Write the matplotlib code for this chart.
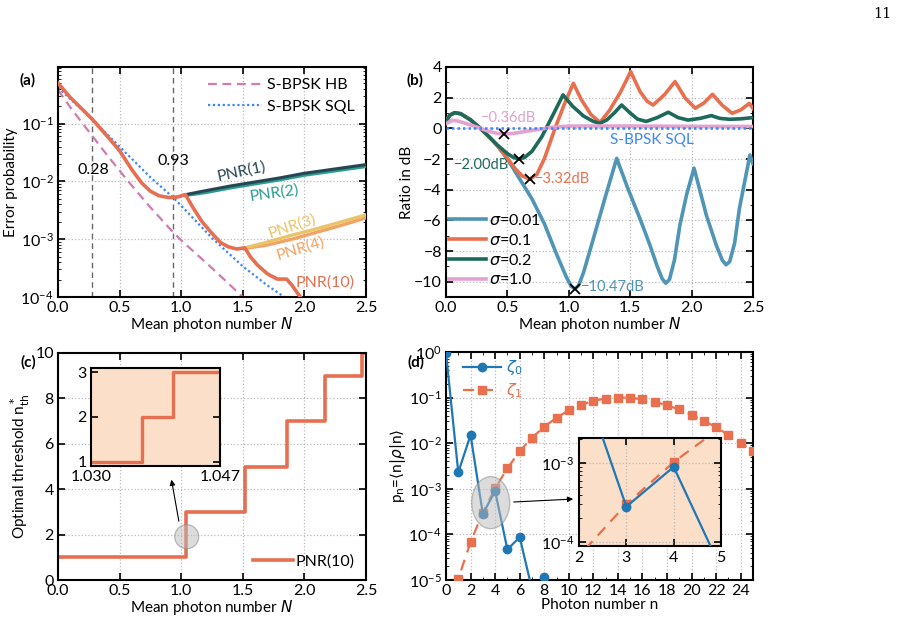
import numpy as np
import matplotlib
matplotlib.use("Agg")
import matplotlib.pyplot as plt
from matplotlib.patches import Ellipse
from matplotlib.ticker import LogLocator, MultipleLocator, NullFormatter, FixedLocator

plt.rcParams['font.family'] = ['Lato', 'DejaVu Sans']
plt.rcParams['mathtext.fontset'] = 'dejavusans'
plt.rcParams['xtick.direction'] = 'in'
plt.rcParams['ytick.direction'] = 'in'
plt.rcParams['xtick.top'] = True
plt.rcParams['ytick.right'] = True
plt.rcParams['axes.linewidth'] = 1.5
plt.rcParams['xtick.major.width'] = 1.2
plt.rcParams['ytick.major.width'] = 1.2
plt.rcParams['xtick.major.size'] = 5
plt.rcParams['ytick.major.size'] = 5
plt.rcParams['xtick.minor.size'] = 2.5
plt.rcParams['ytick.minor.size'] = 2.5
plt.rcParams['font.size'] = 12

# ---------------- data ----------------
# (a) error probability (log10 values)
N_hb = [0, 0.1, 0.2, 0.28, 0.4, 0.57, 0.75, 0.93, 1.0, 1.25, 1.5, 1.6]
log_hb = [-0.42, -0.72, -1.0, -1.22, -1.55, -2.0, -2.45, -2.87, -3.02, -3.5, -4.0, -4.2]
N_sql = [0, 0.28, 0.5, 0.75, 0.93, 1.0, 1.25, 1.5, 1.7, 1.85, 1.95]
log_sql = [-0.38, -0.93, -1.4, -1.93, -2.27, -2.42, -2.98, -3.47, -3.8, -4.02, -4.2]
N_pnr10 = [0, 0.1, 0.2, 0.28, 0.4, 0.5, 0.6, 0.68, 0.75, 0.82, 0.9, 0.97, 1.035, 1.1, 1.17,
           1.25, 1.32, 1.38, 1.45, 1.517, 1.56, 1.62, 1.7, 1.78, 1.856, 1.9, 1.95, 2.0]
log_pnr10 = [-0.30, -0.55, -0.76, -0.93, -1.22, -1.47, -1.8, -2.03, -2.17, -2.25, -2.28, -2.27,
             -2.23, -2.47, -2.7, -2.9, -3.06, -3.13, -3.17, -3.15, -3.3, -3.45, -3.6, -3.69,
             -3.69, -3.8, -3.95, -4.1]
N_pnr12 = [1.035, 1.2, 1.4, 1.6, 1.8, 2.0, 2.2, 2.5]
log_pnr1 = [-2.23, -2.16, -2.08, -2.01, -1.94, -1.86, -1.8, -1.71]
log_pnr2 = [-2.24, -2.19, -2.11, -2.04, -1.97, -1.89, -1.83, -1.74]
N_pnr34 = [1.517, 1.7, 1.9, 2.1, 2.3, 2.5]
log_pnr3 = [-3.15, -3.05, -2.93, -2.82, -2.7, -2.58]
log_pnr4 = [-3.16, -3.1, -3.0, -2.88, -2.76, -2.63]
N_marks_a = [0.28, 0.93]

# (b) ratio in dB
N_s001 = [0, 0.03, 0.07, 0.12, 0.2, 0.28, 0.35, 0.42, 0.5, 0.6, 0.7, 0.8, 0.9, 0.98, 1.02, 1.05,
          1.08, 1.12, 1.2, 1.3, 1.39, 1.48, 1.58, 1.66, 1.72, 1.76, 1.79, 1.82, 1.86, 1.905, 1.96,
          2.02, 2.12, 2.2, 2.25, 2.28, 2.31, 2.35, 2.39, 2.475, 2.5]
dB_s001 = [0.45, 0.85, 1.02, 0.95, 0.55, 0.0, -0.55, -1.15, -2.0, -3.3, -4.6, -6.2, -8.2, -9.7,
           -10.3, -10.47, -10.25, -9.4, -7.2, -4.4, -1.96, -3.9, -5.9, -7.6, -9.0, -9.8, -10.1,
           -9.85, -8.6, -6.3, -4.3, -2.6, -5.66, -7.6, -8.6, -8.9, -8.7, -7.5, -5.2, -1.74, -2.3]
N_s01 = [0, 0.03, 0.07, 0.12, 0.2, 0.28, 0.35, 0.42, 0.5, 0.56, 0.62, 0.684, 0.74, 0.8, 0.888,
         0.96, 1.037, 1.1, 1.18, 1.254, 1.33, 1.42, 1.504, 1.58, 1.64, 1.687, 1.78, 1.865, 1.95,
         2.03, 2.1, 2.17, 2.25, 2.33, 2.4, 2.47, 2.5]
dB_s01 = [0.45, 0.85, 1.02, 0.95, 0.55, 0.0, -0.55, -1.15, -1.95, -2.6, -3.1, -3.32, -3.0, -2.0,
          0.0, 1.5, 2.94, 1.9, 0.9, 0.39, 1.15, 2.35, 3.7, 2.4, 1.75, 1.52, 2.2, 3.05, 1.95, 1.31,
          1.65, 2.22, 1.5, 0.98, 1.2, 1.63, 1.3]
N_s02 = [0, 0.03, 0.07, 0.12, 0.2, 0.28, 0.35, 0.42, 0.5, 0.55, 0.594, 0.64, 0.7, 0.78, 0.86,
         0.953, 1.03, 1.12, 1.2, 1.254, 1.31, 1.37, 1.43, 1.5, 1.56, 1.63, 1.72, 1.81, 1.89, 1.97,
         2.07, 2.16, 2.23, 2.31, 2.4, 2.5]
dB_s02 = [0.45, 0.85, 1.02, 0.95, 0.55, 0.0, -0.55, -1.1, -1.65, -1.9, -2.0, -1.9, -1.5, -0.55,
          0.7, 2.18, 1.45, 0.8, 0.45, 0.33, 0.55, 1.0, 1.52, 1.0, 0.6, 0.45, 0.7, 1.05, 0.7, 0.54,
          0.65, 0.83, 0.65, 0.59, 0.62, 0.7]
N_s10 = [0, 0.05, 0.1, 0.2, 0.28, 0.35, 0.42, 0.472, 0.55, 0.65, 0.75, 0.85, 1.0, 1.5, 2.0, 2.5]
dB_s10 = [0.3, 0.52, 0.47, 0.22, 0.0, -0.2, -0.33, -0.37, -0.33, -0.2, -0.07, 0.05, 0.15, 0.15,
          0.13, 0.12]
N_sqlb = [0, 2.5]
dB_sqlb = [0, 0]
N_min = [0.472, 0.594, 0.684, 1.05]
dB_min = [-0.36, -2.00, -3.32, -10.47]

# (c) optimal threshold
N_th = [0, 1.037, 1.514, 1.858, 2.164, 2.465, 2.5]
n_th = [1, 3, 5, 7, 9, 10, 10]
N_th_in = [1.030, 1.0367, 1.0408, 1.047]
n_th_in = [1, 2, 3, 3]

# (d) photon number distribution (log10)
n_z0 = np.arange(0, 13)
log_z0 = [-0.02, -2.64, -1.82, -3.55, -3.05, -4.33, -4.06, -5.2, -4.94, -7.0, -6.6, -7.2, -7.0]
n_z1 = np.arange(0, 26)
log_z1 = [-6.0, -4.97, -4.17, -3.52, -2.99, -2.55, -2.18, -1.88, -1.64, -1.44, -1.28, -1.16,
          -1.07, -1.02, -1.0, -1.0, -1.04, -1.09, -1.17, -1.26, -1.38, -1.51, -1.65, -1.82,
          -1.99, -2.18]

# ---------------- colors ----------------
c_pnr10 = '#e76f51'
c_pnr1 = '#264653'
c_pnr2 = '#2a9d8f'
c_pnr3 = '#e9c46a'
c_pnr4 = '#f4a261'
c_hb = '#d27bb1'
c_sql = '#3a86ff'
c_s001 = '#4f95b5'
c_s01 = '#e9704f'
c_s02 = '#1c6a5a'
c_s10 = '#e3a2cf'
c_z0 = '#1f77b4'
c_z1 = '#e9704f'
c_inset = '#fbdfc8'
grid_kw = dict(color='#bbbbbb', linestyle=':', linewidth=0.9)

fig = plt.figure(figsize=(8.97, 6.24), dpi=100)
W, H = 897, 624


def add_ax(l, t, r, b):
    return fig.add_axes([l / W, 1 - b / H, (r - l) / W, (b - t) / H])


def p(v):
    return 10 ** np.asarray(v, dtype=float)

# ---------------- (a) ----------------
ax = add_ax(58, 67, 366, 297)
ax.set_yscale('log')
for x in N_marks_a:
    ax.axvline(x, color='#666666', lw=1.0, ls=(0, (4, 3)), zorder=1)
ax.plot(N_hb, p(log_hb), color=c_hb, lw=1.6, ls=(0, (4, 2.5)), label='S-BPSK HB', zorder=2)
ax.plot(N_sql, p(log_sql), color=c_sql, lw=1.6, ls=(0, (1, 1.2)), label='S-BPSK SQL', zorder=2)
ax.plot(N_pnr12, p(log_pnr2), color=c_pnr2, lw=2.6, zorder=3)
ax.plot(N_pnr12, p(log_pnr1), color=c_pnr1, lw=2.2, zorder=3)
ax.plot(N_pnr34, p(log_pnr4), color=c_pnr4, lw=2.4, zorder=3)
ax.plot(N_pnr34, p(log_pnr3), color=c_pnr3, lw=2.4, zorder=3)
ax.plot(N_pnr10, p(log_pnr10), color=c_pnr10, lw=2.6, zorder=4)
ax.set_xlim(0, 2.5)
ax.set_ylim(1e-4, 0.95)
ax.xaxis.set_major_locator(MultipleLocator(0.5))
ax.yaxis.set_major_locator(FixedLocator([1e-4, 1e-3, 1e-2, 1e-1]))
ax.yaxis.set_minor_locator(LogLocator(base=10, subs=np.arange(2, 10)))
ax.yaxis.set_minor_formatter(NullFormatter())
ax.grid(True, which='major', **grid_kw)
ax.set_xlabel(r'Mean photon number $N$', fontsize=11, labelpad=0)
ax.set_ylabel('Error probability', fontsize=11, labelpad=2)
ax.legend(loc='upper right', frameon=False, fontsize=11.5, handlelength=3.4,
          handletextpad=0.3, borderaxespad=0.3, labelspacing=0.45)
ax.text(0.287, 0.0159, '0.28', ha='center', va='center', fontsize=11.5)
ax.text(0.936, 0.0224, '0.93', ha='center', va='center', fontsize=11.5)
ax.text(1.49, 0.0148, 'PNR(1)', color=c_pnr1, ha='center', va='center', fontsize=11.5, rotation=12)
ax.text(1.753, 0.0063, 'PNR(2)', color=c_pnr2, ha='center', va='center', fontsize=11.5, rotation=8)
ax.text(1.897, 0.00166, 'PNR(3)', color=c_pnr3, ha='center', va='center', fontsize=11.5, rotation=18)
ax.text(1.964, 0.00068, 'PNR(4)', color=c_pnr4, ha='center', va='center', fontsize=11.5, rotation=17)
ax.text(2.167, 0.000178, 'PNR(10)', color=c_pnr10, ha='center', va='center', fontsize=11.5)

# ---------------- (b) ----------------
bx = add_ax(446, 67, 753, 297)
bx.plot(N_s001, dB_s001, color=c_s001, lw=2.6, label=r'$\sigma$=0.01', zorder=3)
bx.plot(N_s01, dB_s01, color=c_s01, lw=2.6, label=r'$\sigma$=0.1', zorder=4)
bx.plot(N_s02, dB_s02, color=c_s02, lw=2.6, label=r'$\sigma$=0.2', zorder=5)
bx.plot(N_s10, dB_s10, color=c_s10, lw=2.6, label=r'$\sigma$=1.0', zorder=6)
bx.plot(N_sqlb, dB_sqlb, color=c_sql, lw=1.8, ls=(0, (1, 1.2)), zorder=7)
bx.plot(N_min, dB_min, ls='none', marker='x', color='black', ms=7, mew=1.3, zorder=8)
bx.set_xlim(0, 2.5)
bx.set_ylim(-11, 4)
bx.xaxis.set_major_locator(MultipleLocator(0.5))
bx.yaxis.set_major_locator(MultipleLocator(2))
bx.yaxis.set_minor_locator(MultipleLocator(1))
bx.grid(True, which='major', **grid_kw)
bx.set_xlabel(r'Mean photon number $N$', fontsize=11, labelpad=0)
bx.set_ylabel('Ratio in dB', fontsize=11, labelpad=0)
bx.legend(loc='lower left', frameon=False, fontsize=11.5, handlelength=2.3,
          handletextpad=0.2, borderaxespad=0.2, labelspacing=0.3,
          bbox_to_anchor=(-0.02, 0.0))
bx.text(0.507, 0.7, '\u22120.36dB', color=c_s10, ha='center', va='center', fontsize=10.5)
bx.text(0.29, -2.4, '\u22122.00dB', color=c_s02, ha='center', va='center', fontsize=10.5)
bx.text(0.72, -3.31, '\u22123.32dB', color=c_s01, ha='left', va='center', fontsize=10.5)
bx.text(1.1, -10.35, '\u221210.47dB', color=c_s001, ha='left', va='center', fontsize=10.5)
bx.text(1.675, -0.76, 'S-BPSK SQL', color=c_sql, ha='center', va='center', fontsize=11)

# ---------------- (c) ----------------
cx = add_ax(58, 353, 366, 580)
cx.plot(N_th, n_th, drawstyle='steps-post', color=c_pnr10, lw=2.6, label='PNR(10)')
cx.set_xlim(0, 2.5)
cx.set_ylim(0, 10)
cx.xaxis.set_major_locator(MultipleLocator(0.5))
cx.yaxis.set_major_locator(MultipleLocator(2))
cx.grid(True, which='major', **grid_kw)
cx.set_xlabel(r'Mean photon number $N$', fontsize=11, labelpad=0)
cx.set_ylabel(r'Optimal threshold n$^*_{\rm th}$', fontsize=11, labelpad=2)
cx.legend(loc='lower right', frameon=False, fontsize=11.5, handlelength=2.5,
          handletextpad=0.2, borderaxespad=0.3)
cx.add_patch(Ellipse(((186.7 - 58) / 308, (580 - 536.7) / 227), 24 / 308, 24 / 227,
                     transform=cx.transAxes, facecolor='#bbbbbb', alpha=0.5,
                     edgecolor='#888888', lw=1.0, zorder=5))
cx.annotate('', xy=(0.917, 4.54), xytext=(0.985, 2.47),
            arrowprops=dict(arrowstyle='-|>', color='black', lw=0.8, mutation_scale=8))

cin = add_ax(91, 368, 220, 466)
cin.set_facecolor(c_inset)
cin.plot(N_th_in, n_th_in, drawstyle='steps-post', color=c_pnr10, lw=2.4)
cin.set_xlim(1.030, 1.047)
cin.set_ylim(0.91, 3.09)
cin.set_xticks([1.030, 1.047])
cin.set_xticklabels(['1.030', '1.047'])
cin.set_yticks([1, 2, 3])
cin.tick_params(labelsize=11.5, pad=3)

# ---------------- (d) ----------------
dx = add_ax(446, 352, 753, 580)
dx.set_yscale('log')
dx.plot(n_z0, p(log_z0), color=c_z0, lw=1.6, marker='o', ms=6, label=r'$\zeta_0$', zorder=4)
dx.plot(n_z1, p(log_z1), color=c_z1, lw=1.6, ls=(0, (5, 3.5)), marker='s', ms=5.5,
        label=r'$\zeta_1$', zorder=3)
dx.set_xlim(0, 25)
dx.set_ylim(1e-5, 1)
dx.xaxis.set_major_locator(MultipleLocator(2))
dx.xaxis.set_minor_locator(MultipleLocator(1))
dx.yaxis.set_major_locator(FixedLocator([1e-5, 1e-4, 1e-3, 1e-2, 1e-1, 1]))
dx.yaxis.set_minor_locator(LogLocator(base=10, subs=np.arange(2, 10)))
dx.yaxis.set_minor_formatter(NullFormatter())
dx.grid(True, which='major', **grid_kw)
dx.set_xlabel('Photon number n', fontsize=11, labelpad=0)
dx.set_ylabel(r'p$_{\rm n}$=$\langle$n$|$$\rho$$|$n$\rangle$', fontsize=11, labelpad=0)
leg = dx.legend(loc='upper left', frameon=False, fontsize=11.5, handlelength=2.4,
                handletextpad=0.3, borderaxespad=0.0, labelspacing=0.25,
                bbox_to_anchor=(0.035, 1.0))
for t, c in zip(leg.get_texts(), [c_z0, c_z1]):
    t.set_color(c)
dx.add_patch(Ellipse(((490.7 - 446) / 307, (580 - 502.7) / 228), 38 / 307, 52 / 228,
                     transform=dx.transAxes, facecolor='#bbbbbb', alpha=0.5,
                     edgecolor='#888888', lw=1.0, zorder=5))
dx.annotate('', xy=(10.58, 6.0e-4), xytext=(5.29, 5.1e-4),
            arrowprops=dict(arrowstyle='-|>', color='black', lw=0.8, mutation_scale=8), zorder=6)

din = add_ax(579, 438, 721, 546)
din.set_facecolor(c_inset)
din.set_yscale('log')
din.plot(n_z0, p(log_z0), color=c_z0, lw=1.6, marker='o', ms=6, zorder=4)
din.plot(n_z1, p(log_z1), color=c_z1, lw=1.6, ls=(0, (5, 3.5)), marker='s', ms=5.5, zorder=3)
din.set_xlim(2, 5)
din.set_ylim(9e-5, 2.06e-3)
din.set_xticks([2, 3, 4, 5])
din.yaxis.set_major_locator(FixedLocator([1e-4, 1e-3]))
din.yaxis.set_minor_locator(LogLocator(base=10, subs=np.arange(2, 10)))
din.yaxis.set_minor_formatter(NullFormatter())
din.grid(True, which='major', **grid_kw)
din.tick_params(labelsize=11.5)

for a in (ax, bx, cx, dx):
    a.tick_params(labelsize=11.5, pad=3)
    a.tick_params(which='minor', top=True, right=True)

# panel labels and page number
fig.text(28 / W, 1 - 80 / H, '(a)', fontsize=11, fontweight='bold', ha='center', va='center')
fig.text(415 / W, 1 - 80 / H, '(b)', fontsize=11, fontweight='bold', ha='center', va='center')
fig.text(28 / W, 1 - 362 / H, '(c)', fontsize=11, fontweight='bold', ha='center', va='center')
fig.text(416 / W, 1 - 362 / H, '(d)', fontsize=11, fontweight='bold', ha='center', va='center')
fig.text(882 / W, 1 - 14 / H, '11', fontsize=10.5, family='DejaVu Serif', ha='center', va='center')

fig.savefig('out.png', dpi=100)
